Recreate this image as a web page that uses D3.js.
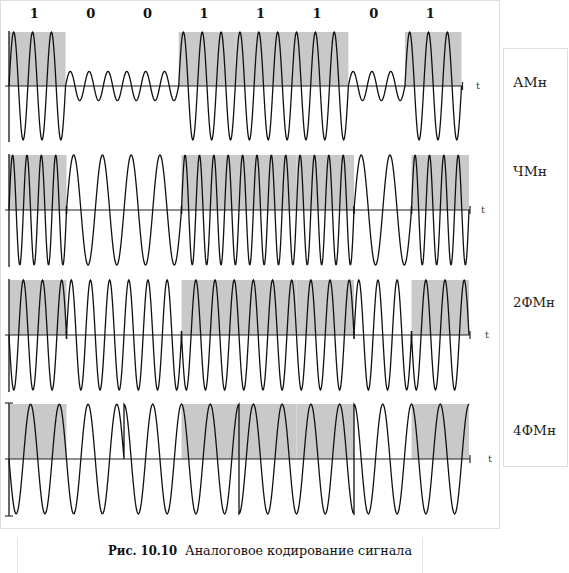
<!DOCTYPE html>
<html>
<head>
<meta charset="utf-8">
<script src="https://cdn.jsdelivr.net/npm/d3@7"></script>
<style>
  body { margin: 0; background: #fff; }
  svg { display: block; }
</style>
</head>
<body>
<div id="chart"></div>
<script>
// bits sent, one per slot
var bits = [1, 0, 0, 1, 1, 1, 0, 1];
var bitLabels = ["1", "0", "0", "1", "1", "1", "0", "1"];
var panelNames = ["АМн", "ЧМн", "2ФМн", "4ФМн"];

// АМн: amplitude for bit 1 / bit 0, carrier cycles per bit
var amAmp = { 1: 1, 0: 0.27 };
var amCycles = 3;
// ЧМн: cycles per bit
var fmCycles = { 1: 4, 0: 2 };
// 2ФМн: phase (degrees) per bit, cycles per bit
var psk2Phase = { 1: 180, 0: 0 };
var psk2Cycles = 3;
// 4ФМн: dibits and their phases, cycles per dibit
var dibits = ["10", "01", "11", "01"];
var psk4Phase = { "10": 180, "01": 90, "11": 270 };
var psk4Cycles = 4;

var width = 569, height = 573;
var serif = "'DejaVu Serif', 'Liberation Serif', serif";

var svg = d3.select("#chart").append("svg")
    .attr("width", width)
    .attr("height", height);

// frames
svg.append("rect")
    .attr("x", 0.5).attr("y", 0.5)
    .attr("width", 499).attr("height", 528)
    .attr("fill", "none").attr("stroke", "#dedede");

svg.append("rect")
    .attr("x", 503.5).attr("y", 48.5)
    .attr("width", 64).attr("height", 418)
    .attr("fill", "none").attr("stroke", "#dedede");

svg.append("line")
    .attr("x1", 17.5).attr("x2", 17.5).attr("y1", 537).attr("y2", 573)
    .attr("stroke", "#e2e2e2");
svg.append("line")
    .attr("x1", 422.5).attr("x2", 422.5).attr("y1", 537).attr("y2", 573)
    .attr("stroke", "#e2e2e2");

// panel geometry
var panels = [
    { name: panelNames[0], x0: 9, x1: 461.5, axis: 86, amp: 54, labelY: 87, labelW: 34, tX: 476 },
    { name: panelNames[1], x0: 9, x1: 469, axis: 210, amp: 55, labelY: 176, labelW: 34, tX: 481 },
    { name: panelNames[2], x0: 9, x1: 469, axis: 335, amp: 55, labelY: 307, labelW: 42, tX: 485 },
    { name: panelNames[3], x0: 9, x1: 469, axis: 459, amp: 55, labelY: 435, labelW: 43, tX: 488 }
];

// sample one slot of the carrier
function segPoints(t0, t1, fn) {
    var n = 120, pts = [];
    for (var i = 0; i <= n; i++) {
        var t = t0 + (t1 - t0) * i / n;
        pts.push([t, fn(t - t0)]);
    }
    return pts;
}

function amSignal() {
    var pts = [];
    bits.forEach(function(b, i) {
        pts = pts.concat(segPoints(i, i + 1, function(u) {
            return amAmp[b] * Math.sin(2 * Math.PI * amCycles * u);
        }));
    });
    return pts;
}

function fmSignal() {
    var pts = [];
    bits.forEach(function(b, i) {
        pts = pts.concat(segPoints(i, i + 1, function(u) {
            return Math.sin(2 * Math.PI * fmCycles[b] * u);
        }));
    });
    return pts;
}

function psk2Signal() {
    var pts = [];
    bits.forEach(function(b, i) {
        pts = pts.concat(segPoints(i, i + 1, function(u) {
            return Math.sin(2 * Math.PI * psk2Cycles * u + psk2Phase[b] * Math.PI / 180);
        }));
    });
    return pts;
}

function psk4Signal() {
    var pts = [];
    dibits.forEach(function(d, i) {
        pts = pts.concat(segPoints(2 * i, 2 * i + 2, function(u) {
            return Math.sin(2 * Math.PI * psk4Cycles * u / 2 + psk4Phase[d] * Math.PI / 180);
        }));
    });
    return pts;
}

var signals = [amSignal(), fmSignal(), psk2Signal(), psk4Signal()];

panels.forEach(function(p, pi) {
    var g = svg.append("g");

    var x = d3.scaleLinear().domain([0, bits.length]).range([p.x0, p.x1]);
    var y = d3.scaleLinear().domain([-1, 1]).range([p.axis + p.amp, p.axis - p.amp]);

    // shading for bit 1
    g.selectAll(".shade")
        .data(bits.map(function(b, i) { return { b: b, i: i }; }).filter(function(d) { return d.b === 1; }))
        .enter().append("rect")
        .attr("class", "shade")
        .attr("x", function(d) { return x(d.i); })
        .attr("y", y(1))
        .attr("width", function(d) { return x(d.i + 1) - x(d.i); })
        .attr("height", y(0) - y(1))
        .attr("fill", "#c9c9c9");

    // time axis
    g.append("line")
        .attr("x1", 5).attr("x2", x(bits.length) + 1)
        .attr("y1", y(0)).attr("y2", y(0))
        .attr("stroke", "#222").attr("stroke-width", 1.2);
    g.append("line")
        .attr("x1", x(bits.length) + 1).attr("x2", x(bits.length) + 1)
        .attr("y1", y(0) - 4).attr("y2", y(0) + 4)
        .attr("stroke", "#222").attr("stroke-width", 1.2);

    // vertical axis
    g.append("line")
        .attr("x1", x(0)).attr("x2", x(0))
        .attr("y1", y(1) - 1).attr("y2", y(-1) + 2)
        .attr("stroke", "#333").attr("stroke-width", 1.5);
    if (pi === 3) {
        [y(1) - 1, y(-1) + 2].forEach(function(yy) {
            g.append("line")
                .attr("x1", x(0) - 4).attr("x2", x(0) + 4)
                .attr("y1", yy).attr("y2", yy)
                .attr("stroke", "#333").attr("stroke-width", 1.2);
        });
    }

    // small marks where the carrier changes (ЧМн, 2ФМн)
    if (pi === 1 || pi === 2) {
        var marks = d3.range(1, bits.length).filter(function(i) { return bits[i] !== bits[i - 1]; });
        g.selectAll(".mark")
            .data(marks)
            .enter().append("line")
            .attr("x1", function(d) { return x(d); })
            .attr("x2", function(d) { return x(d); })
            .attr("y1", y(0) - 4).attr("y2", y(0) + 4)
            .attr("stroke", "#111").attr("stroke-width", 1.6);
    }

    // the signal
    var line = d3.line()
        .x(function(d) { return x(d[0]); })
        .y(function(d) { return y(d[1]); });

    g.append("path")
        .datum(signals[pi])
        .attr("d", line)
        .attr("fill", "none")
        .attr("stroke", "#111")
        .attr("stroke-width", 1.3);

    // t label
    g.append("text")
        .attr("x", p.tX)
        .attr("y", y(0) + 3)
        .attr("font-family", serif)
        .attr("font-size", 10)
        .attr("fill", "#444")
        .text("t");

    // modulation name
    svg.append("text")
        .attr("x", 513)
        .attr("y", p.labelY)
        .attr("font-family", serif)
        .attr("font-size", 13)
        .attr("fill", "#222")
        .attr("textLength", p.labelW)
        .attr("lengthAdjust", "spacingAndGlyphs")
        .text(p.name);

    // bit labels on top
    if (pi === 0) {
        svg.selectAll(".bitlabel")
            .data(bitLabels)
            .enter().append("text")
            .attr("class", "bitlabel")
            .attr("x", function(d, i) { return x(i + 0.5) - 3; })
            .attr("y", 18)
            .attr("text-anchor", "middle")
            .attr("font-family", serif)
            .attr("font-weight", "bold")
            .attr("font-size", 13)
            .attr("fill", "#111")
            .text(function(d) { return d; });
    }
});

// caption
var cap = svg.append("text")
    .attr("y", 555)
    .attr("font-family", serif)
    .attr("font-size", 12)
    .attr("fill", "#111");
cap.append("tspan")
    .attr("x", 108)
    .attr("font-weight", "bold")
    .attr("textLength", 69)
    .attr("lengthAdjust", "spacingAndGlyphs")
    .text("Рис. 10.10");
cap.append("tspan")
    .attr("x", 185)
    .attr("textLength", 227)
    .attr("lengthAdjust", "spacingAndGlyphs")
    .text("Аналоговое кодирование сигнала");
</script>
</body>
</html>
